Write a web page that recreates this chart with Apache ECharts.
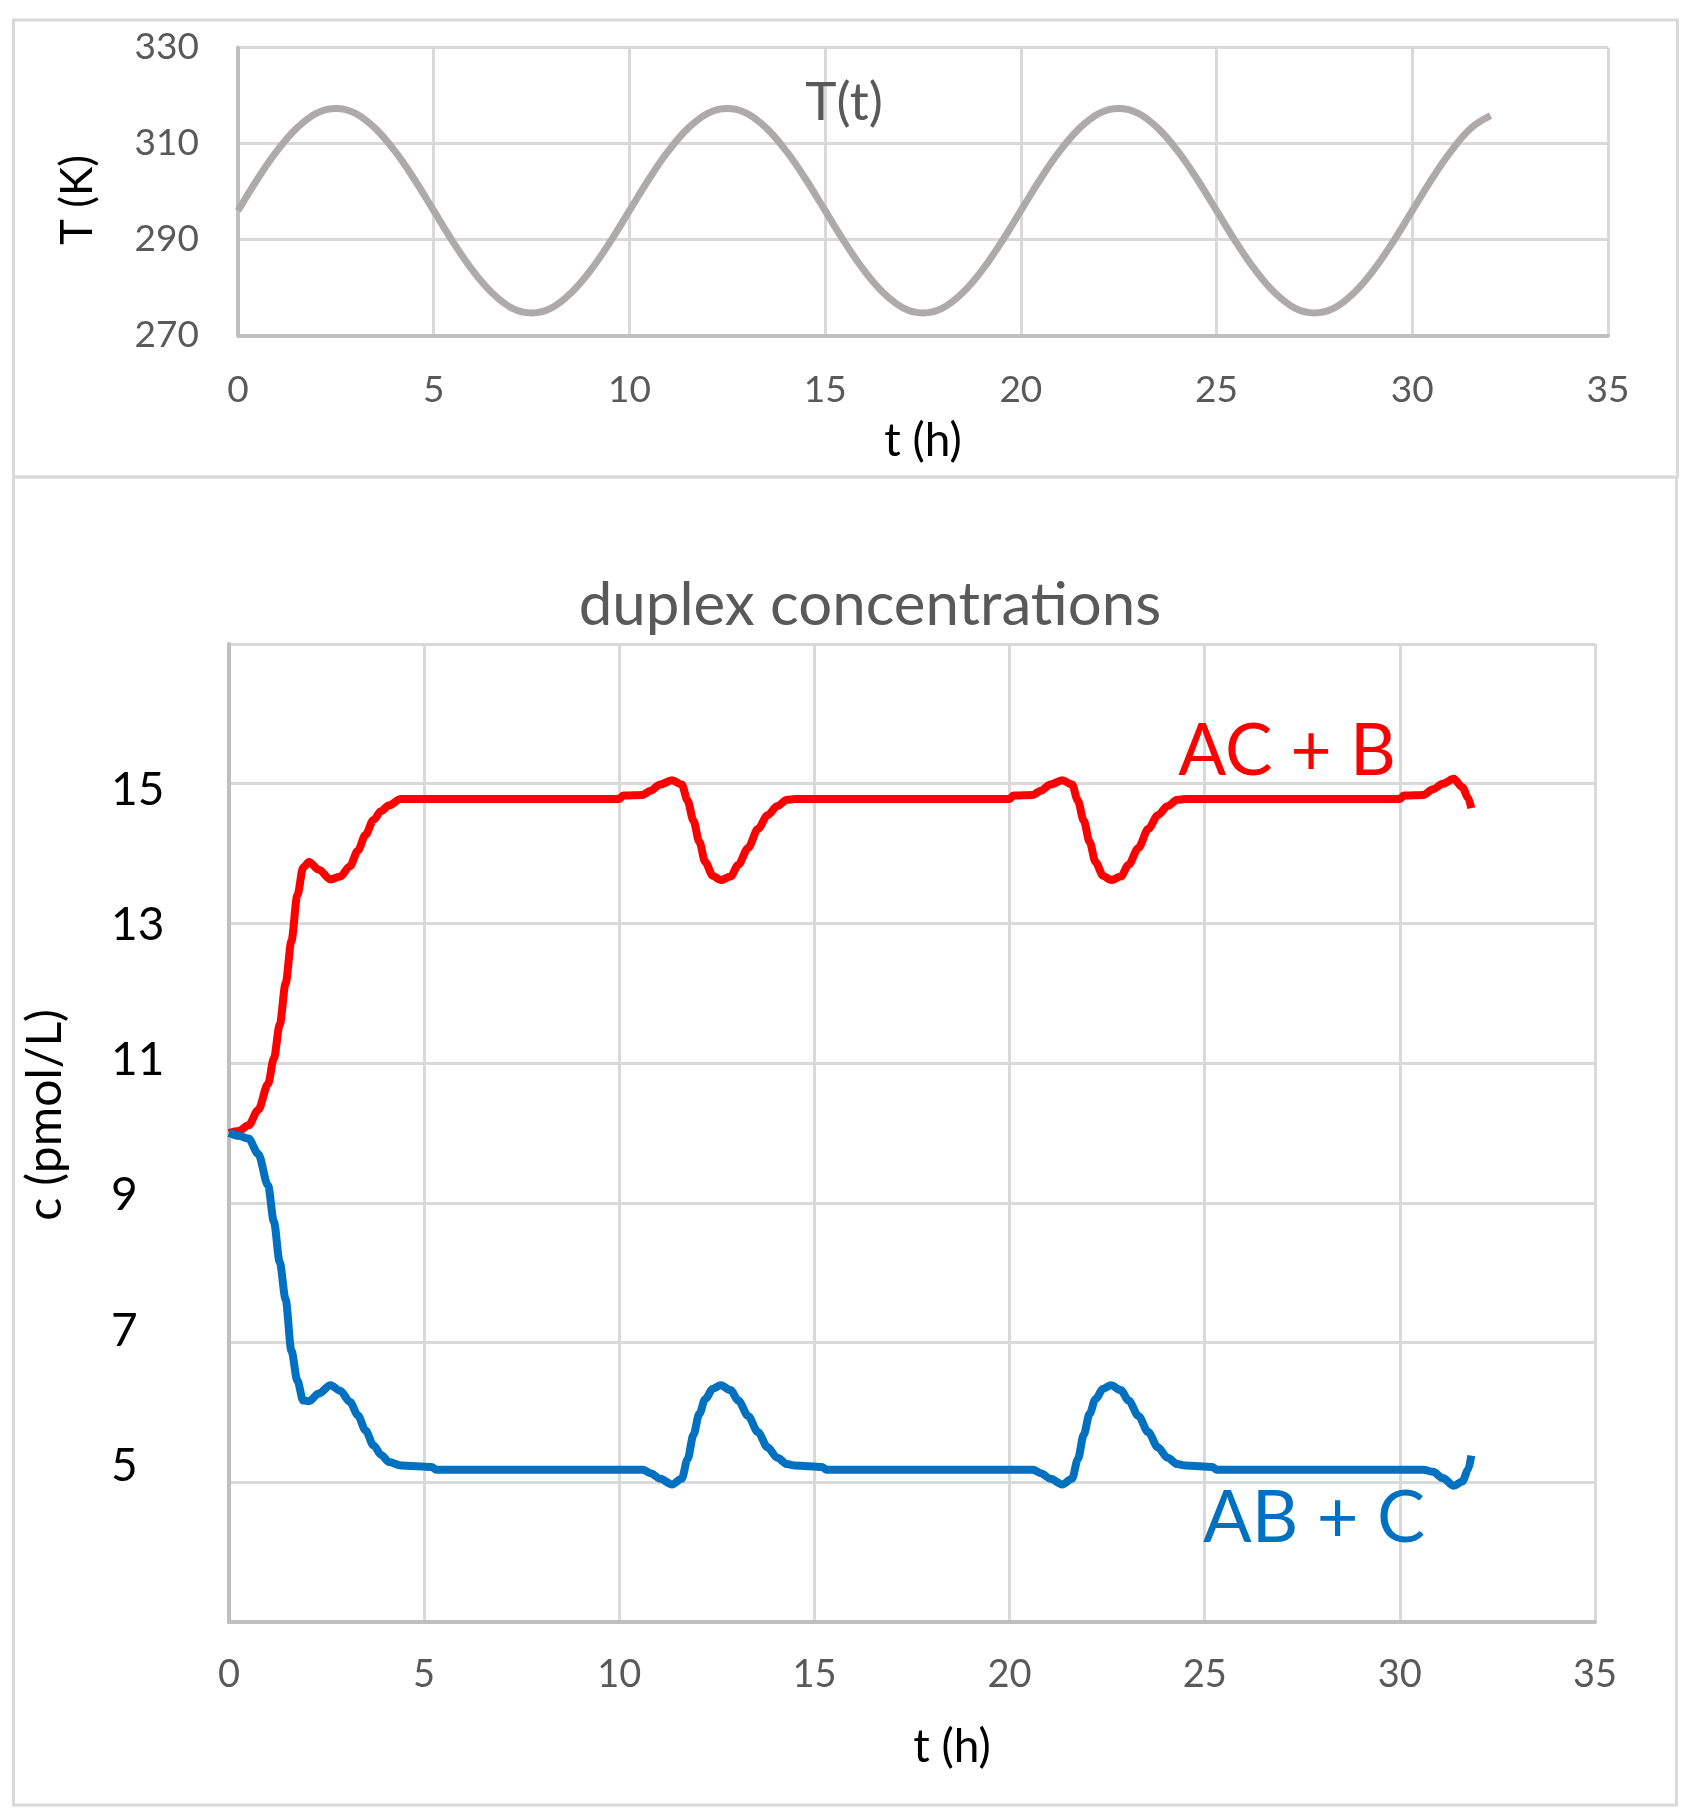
<!DOCTYPE html>
<html><head><meta charset="utf-8">
<script src="https://cdn.jsdelivr.net/npm/echarts@6/dist/echarts.min.js"></script>
<style>html,body{margin:0;padding:0;background:#fff}#c{width:1694px;height:1820px}</style>
</head><body><div id="c"></div>
<script>
// ---------- data ----------
const tempTime = [0,0.5,1,1.5,2,2.5,3,3.5,4,4.5,5,5.5,6,6.5,7,7.5,8,8.5,9,9.5,
  10,10.5,11,11.5,12,12.5,13,13.5,14,14.5,15,15.5,16,16.5,17,17.5,18,18.5,19,19.5,
  20,20.5,21,21.5,22,22.5,23,23.5,24,24.5,25,25.5,26,26.5,27,27.5,28,28.5,29,29.5,
  30,30.5,31,31.5,32];
const tempK = [296,302.6,308.5,313.2,316.3,317.3,316.3,313.2,308.5,302.6,296,289.4,283.5,278.8,275.7,274.7,275.7,278.8,283.5,289.4,
  296,302.6,308.5,313.2,316.3,317.3,316.3,313.2,308.5,302.6,296,289.4,283.5,278.8,275.7,274.7,275.7,278.8,283.5,289.4,
  296,302.6,308.5,313.2,316.3,317.3,316.3,313.2,308.5,302.6,296,289.4,283.5,278.8,275.7,274.7,275.7,278.8,283.5,289.4,
  296,302.6,308.5,313.2,315.8];

const concTime = [0,0.25,0.5,0.75,1.0,1.15,1.3,1.45,1.6,1.75,1.9,2.05,2.3,2.6,2.85,3.1,3.3,3.5,3.7,3.9,4.1,4.4,5.2,5.3,
  10.0,10.1,10.6,10.8,11.05,11.35,11.6,11.75,11.9,12.05,12.2,12.4,12.6,12.85,13.05,13.3,13.55,13.8,14.05,14.3,14.5,15.2,15.3,
  20.0,20.1,20.6,20.8,21.05,21.35,21.6,21.75,21.9,22.05,22.2,22.4,22.6,22.85,23.05,23.3,23.55,23.8,24.05,24.3,24.5,25.2,25.3,
  30.0,30.1,30.6,30.85,31.1,31.38,31.6,31.75,31.83];
const acB = [10.0,10.03,10.11,10.33,10.70,11.07,11.55,12.14,12.75,13.40,13.80,13.88,13.77,13.63,13.67,13.82,14.04,14.27,14.48,14.61,14.69,14.78,14.78,14.78,
  14.78,14.83,14.84,14.90,14.99,15.05,14.99,14.76,14.47,14.17,13.88,13.68,13.62,13.67,13.84,14.08,14.35,14.55,14.68,14.77,14.78,14.78,14.78,
  14.78,14.83,14.84,14.90,14.99,15.05,14.99,14.76,14.47,14.17,13.88,13.68,13.62,13.67,13.84,14.08,14.35,14.55,14.68,14.77,14.78,14.78,14.78,
  14.78,14.83,14.84,14.92,15.00,15.07,14.95,14.80,14.65];
const abC = [10.0,9.96,9.92,9.70,9.25,8.73,8.15,7.62,6.88,6.46,6.17,6.16,6.27,6.39,6.31,6.15,5.96,5.74,5.53,5.39,5.29,5.24,5.22,5.18,
  5.18,5.18,5.18,5.13,5.05,4.97,5.05,5.33,5.68,5.98,6.19,6.34,6.39,6.32,6.17,5.95,5.72,5.50,5.35,5.26,5.24,5.22,5.18,
  5.18,5.18,5.18,5.13,5.05,4.97,5.05,5.33,5.68,5.98,6.19,6.34,6.39,6.32,6.17,5.95,5.72,5.50,5.35,5.26,5.24,5.22,5.18,
  5.18,5.18,5.18,5.15,5.06,4.95,5.01,5.18,5.38];

const concLabelValues = [5,7,9,11,13,15];
const seriesNames = ['T(t)','AC + B','AB + C'];
const titleText = 'duplex concentrations';

// ---------- chart ----------
const FONT = 'Lato';
const GRID = '#d9d9d9', AXIS = '#bfbfbf', TXT = '#595959';
const chart = echarts.init(document.getElementById('c'), null, {renderer:'canvas'});
const pair = (xs, ys) => xs.map((x,i)=>[x, ys[i]]);

function xAxisCfg(grid, margin, fontSize, nameGap, namePad){
  return {
    type:'value', gridIndex:grid, min:0, max:35, interval:5,
    axisLine:{show:true, onZero:false, lineStyle:{color:AXIS, width:4}},
    axisTick:{show:false},
    splitLine:{show:true, lineStyle:{color:GRID, width:3}},
    axisLabel:{color:TXT, fontFamily:FONT, fontSize:fontSize, margin:margin, showMinLabel:true, showMaxLabel:true},
    name:'t (h)', nameLocation:'middle', nameGap:nameGap, nameMoveOverlap:false,
    nameTextStyle:{color:'#000', fontFamily:FONT, fontSize:46, padding:namePad}
  };
}

const option = {
  animation:false,
  backgroundColor:'#fff',
  grid:[
    {left:238, top:47.5, width:1370, height:288, containLabel:false, outerBoundsMode:'none'},
    {left:229, top:644, width:1366, height:978, containLabel:false, outerBoundsMode:'none'}
  ],
  xAxis:[
    xAxisCfg(0, 36, 37, 83, [0,0,0,0]),
    xAxisCfg(1, 34, 38, 102, [0,0,0,80])
  ],
  yAxis:[
    {type:'value', gridIndex:0, min:270, max:330, interval:20,
     axisLine:{show:true, lineStyle:{color:AXIS, width:4}}, axisTick:{show:false},
     splitLine:{show:true, lineStyle:{color:GRID, width:3}},
     axisLabel:{color:TXT, fontFamily:FONT, fontSize:37, margin:39, showMinLabel:true, showMaxLabel:true},
     name:'T (K)', nameLocation:'middle', nameGap:138, nameRotate:90, nameMoveOverlap:false,
     nameTextStyle:{color:'#000', fontFamily:FONT, fontSize:44, padding:[0,17,0,0]}},
    {type:'value', gridIndex:1, min:3, max:17, interval:2,
     axisLine:{show:true, lineStyle:{color:AXIS, width:4}}, axisTick:{show:false},
     splitLine:{show:true, lineStyle:{color:GRID, width:3}},
     axisLabel:{show:false},
     name:'c (pmol/L)', nameLocation:'middle', nameGap:159, nameRotate:90, nameMoveOverlap:false,
     nameTextStyle:{color:'#000', fontFamily:FONT, fontSize:48, padding:[0,0,0,36]}},
    {type:'value', gridIndex:1, min:2.692, max:17.155, position:'left',
     axisLine:{show:false}, axisTick:{show:false}, splitLine:{show:false},
     axisLabel:{color:'#000', fontFamily:FONT, fontSize:46, margin:118, align:'left', customValues:concLabelValues}}
  ],
  series:[
    {name:seriesNames[0], type:'line', xAxisIndex:0, yAxisIndex:0, data:pair(tempTime,tempK),
     showSymbol:false, smooth:0.4, lineStyle:{color:'#aeaaaa', width:7}, z:3},
    {name:seriesNames[1], type:'line', xAxisIndex:1, yAxisIndex:1, data:pair(concTime,acB),
     showSymbol:false, smooth:0.3, smoothMonotone:'x', lineStyle:{color:'#ff0000', width:8}, z:3},
    {name:seriesNames[2], type:'line', xAxisIndex:1, yAxisIndex:1, data:pair(concTime,abC),
     showSymbol:false, smooth:0.3, smoothMonotone:'x', lineStyle:{color:'#0070c0', width:8}, z:3}
  ],
  graphic:[
    {type:'rect', shape:{x:13.5, y:20, width:1664, height:457}, style:{fill:null, stroke:'#d9d9d9', lineWidth:3}, silent:true, z:-1},
    {type:'rect', shape:{x:13.5, y:477, width:1663, height:1328}, style:{fill:null, stroke:'#d9d9d9', lineWidth:3}, silent:true, z:-1},
    {type:'text', x:870, y:606, style:{text:titleText, font:'60px Lato', fill:TXT, align:'center', verticalAlign:'middle'}, z:10},
    {type:'text', x:844, y:103, style:{text:seriesNames[0], font:'53px Lato', fill:TXT, align:'center', verticalAlign:'middle'}, z:10},
    {type:'text', x:1287, y:752, style:{text:seriesNames[1], font:'71px Lato', fill:'#ff0000', align:'center', verticalAlign:'middle'}, z:10},
    {type:'text', x:1314, y:1519, style:{text:seriesNames[2], font:'72px Lato', fill:'#0070c0', align:'center', verticalAlign:'middle'}, z:10}
  ]
};
chart.setOption(option);
</script></body></html>
